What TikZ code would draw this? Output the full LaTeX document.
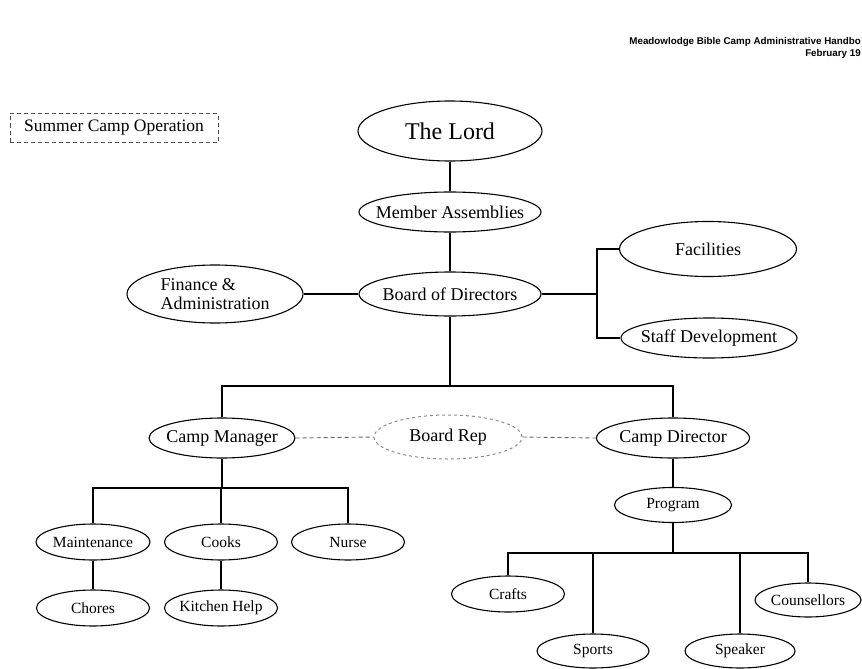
\documentclass[tikz,border=0pt]{standalone}
\usepackage{fontspec}
\setmainfont{Liberation Serif}
\newfontfamily\headfont{Liberation Sans}
\usetikzlibrary{shapes.geometric}
\tikzset{
  box/.style={ellipse, draw=black, line width=1.1pt, inner sep=-12pt, font=\fontsize{18}{20}\selectfont},
  small/.style={box, font=\fontsize{15.5}{17}\selectfont},
  dashbox/.style={ellipse, draw=black!45, dashed, line width=1pt, inner sep=-12pt, font=\fontsize{18}{20}\selectfont},
  link/.style={draw=black, line width=1.1pt},
  dlink/.style={draw=black!60, dash pattern=on 4pt off 3pt, line width=0.9pt},
  head/.style={anchor=east, inner sep=0pt, font=\headfont\bfseries\fontsize{9.8}{11}\selectfont},
}
\begin{document}
\begin{tikzpicture}[x=1pt,y=-1pt]
\useasboundingbox (0,0) rectangle (862,669);
\fill[white] (0,0) rectangle (862,669);

% header
\node[head] (hd1) at (861,42) {Meadowlodge Bible Camp Administrative Handbo};
\node[head] (hd2) at (861,54) {February 19};

% label
\node[draw=black!70, dash pattern=on 4pt off 3pt, line width=0.8pt, inner sep=0pt, minimum width=208pt, minimum height=29pt, font=\fontsize{17.5}{19}\selectfont] (sco) at (114,128) {Summer Camp Operation};

% nodes
\node[box, minimum width=184pt, minimum height=60pt, font=\fontsize{24}{26}\selectfont] (lord) at (450,131) {The Lord};
\node[box, minimum width=182pt, minimum height=40pt] (member) at (450,212) {Member Assemblies};
\node[box, minimum width=182pt, minimum height=44pt] (board) at (450,294) {Board of Directors};
\node[box, minimum width=176pt, minimum height=58pt, align=left, font=\fontsize{18}{19}\selectfont] (finance) at (215,294) {Finance \&\\Administration};
\node[box, minimum width=177pt, minimum height=55pt] (facilities) at (708,249) {Facilities};
\node[box, minimum width=176pt, minimum height=40pt] (staff) at (709,338) {Staff Development};
\node[box, minimum width=146pt, minimum height=40pt] (manager) at (222,438) {Camp Manager};
\node[dashbox, minimum width=148pt, minimum height=44pt] (rep) at (448,437) {Board Rep};
\node[box, minimum width=153pt, minimum height=40pt] (director) at (673,438) {Camp Director};
\node[small, minimum width=117pt, minimum height=35pt] (program) at (673,505) {Program};
\node[small, minimum width=114pt, minimum height=36pt] (maint) at (93,542) {Maintenance};
\node[small, minimum width=113pt, minimum height=36pt] (cooks) at (221,542) {Cooks};
\node[small, minimum width=113pt, minimum height=36pt] (nurse) at (348,542) {Nurse};
\node[small, minimum width=113pt, minimum height=36pt] (chores) at (93,608) {Chores};
\node[small, minimum width=113pt, minimum height=36pt] (kitchen) at (221,608) {Kitchen Help};
\node[small, minimum width=113pt, minimum height=36pt] (crafts) at (508,594) {Crafts};
\node[small, minimum width=112pt, minimum height=34pt] (sports) at (593,651) {Sports};
\node[small, minimum width=110pt, minimum height=34pt] (speaker) at (740,651) {Speaker};
\node[small, minimum width=106pt, minimum height=34pt] (counsellors) at (808,600) {Counsellors};

% bus points
\coordinate (fb) at (597,294);
\coordinate (b1) at (450,386);
\coordinate (b2) at (222,488);
\coordinate (b3) at (673,553);

% connectors
\draw[link] (lord) -- (member);
\draw[link] (member) -- (board);
\draw[link] (finance.east) -- (board.west);
\draw[link] (board.east) -- (fb);
\draw[link] (facilities.west) -- (facilities.west -| fb) -- (staff.west -| fb) -- (staff.west);
\draw[link] (board.south) -- (b1);
\draw[link] (manager.north) |- (b1) -| (director.north);
\draw[dlink] (manager.east) -- (rep.west);
\draw[dlink] (rep.east) -- (director.west);
\draw[link] (manager.south) -- (b2);
\draw[link] (maint.north) |- (b2) -| (nurse.north);
\draw[link] (cooks.north) -- (cooks.north |- b2);
\draw[link] (maint) -- (chores);
\draw[link] (cooks) -- (kitchen);
\draw[link] (director.south) -- (program.north);
\draw[link] (program.south) -- (b3);
\draw[link] (crafts.north) |- (b3) -| (counsellors.north);
\draw[link] (sports.north) -- (sports.north |- b3);
\draw[link] (speaker.north) -- (speaker.north |- b3);
\end{tikzpicture}
\end{document}
